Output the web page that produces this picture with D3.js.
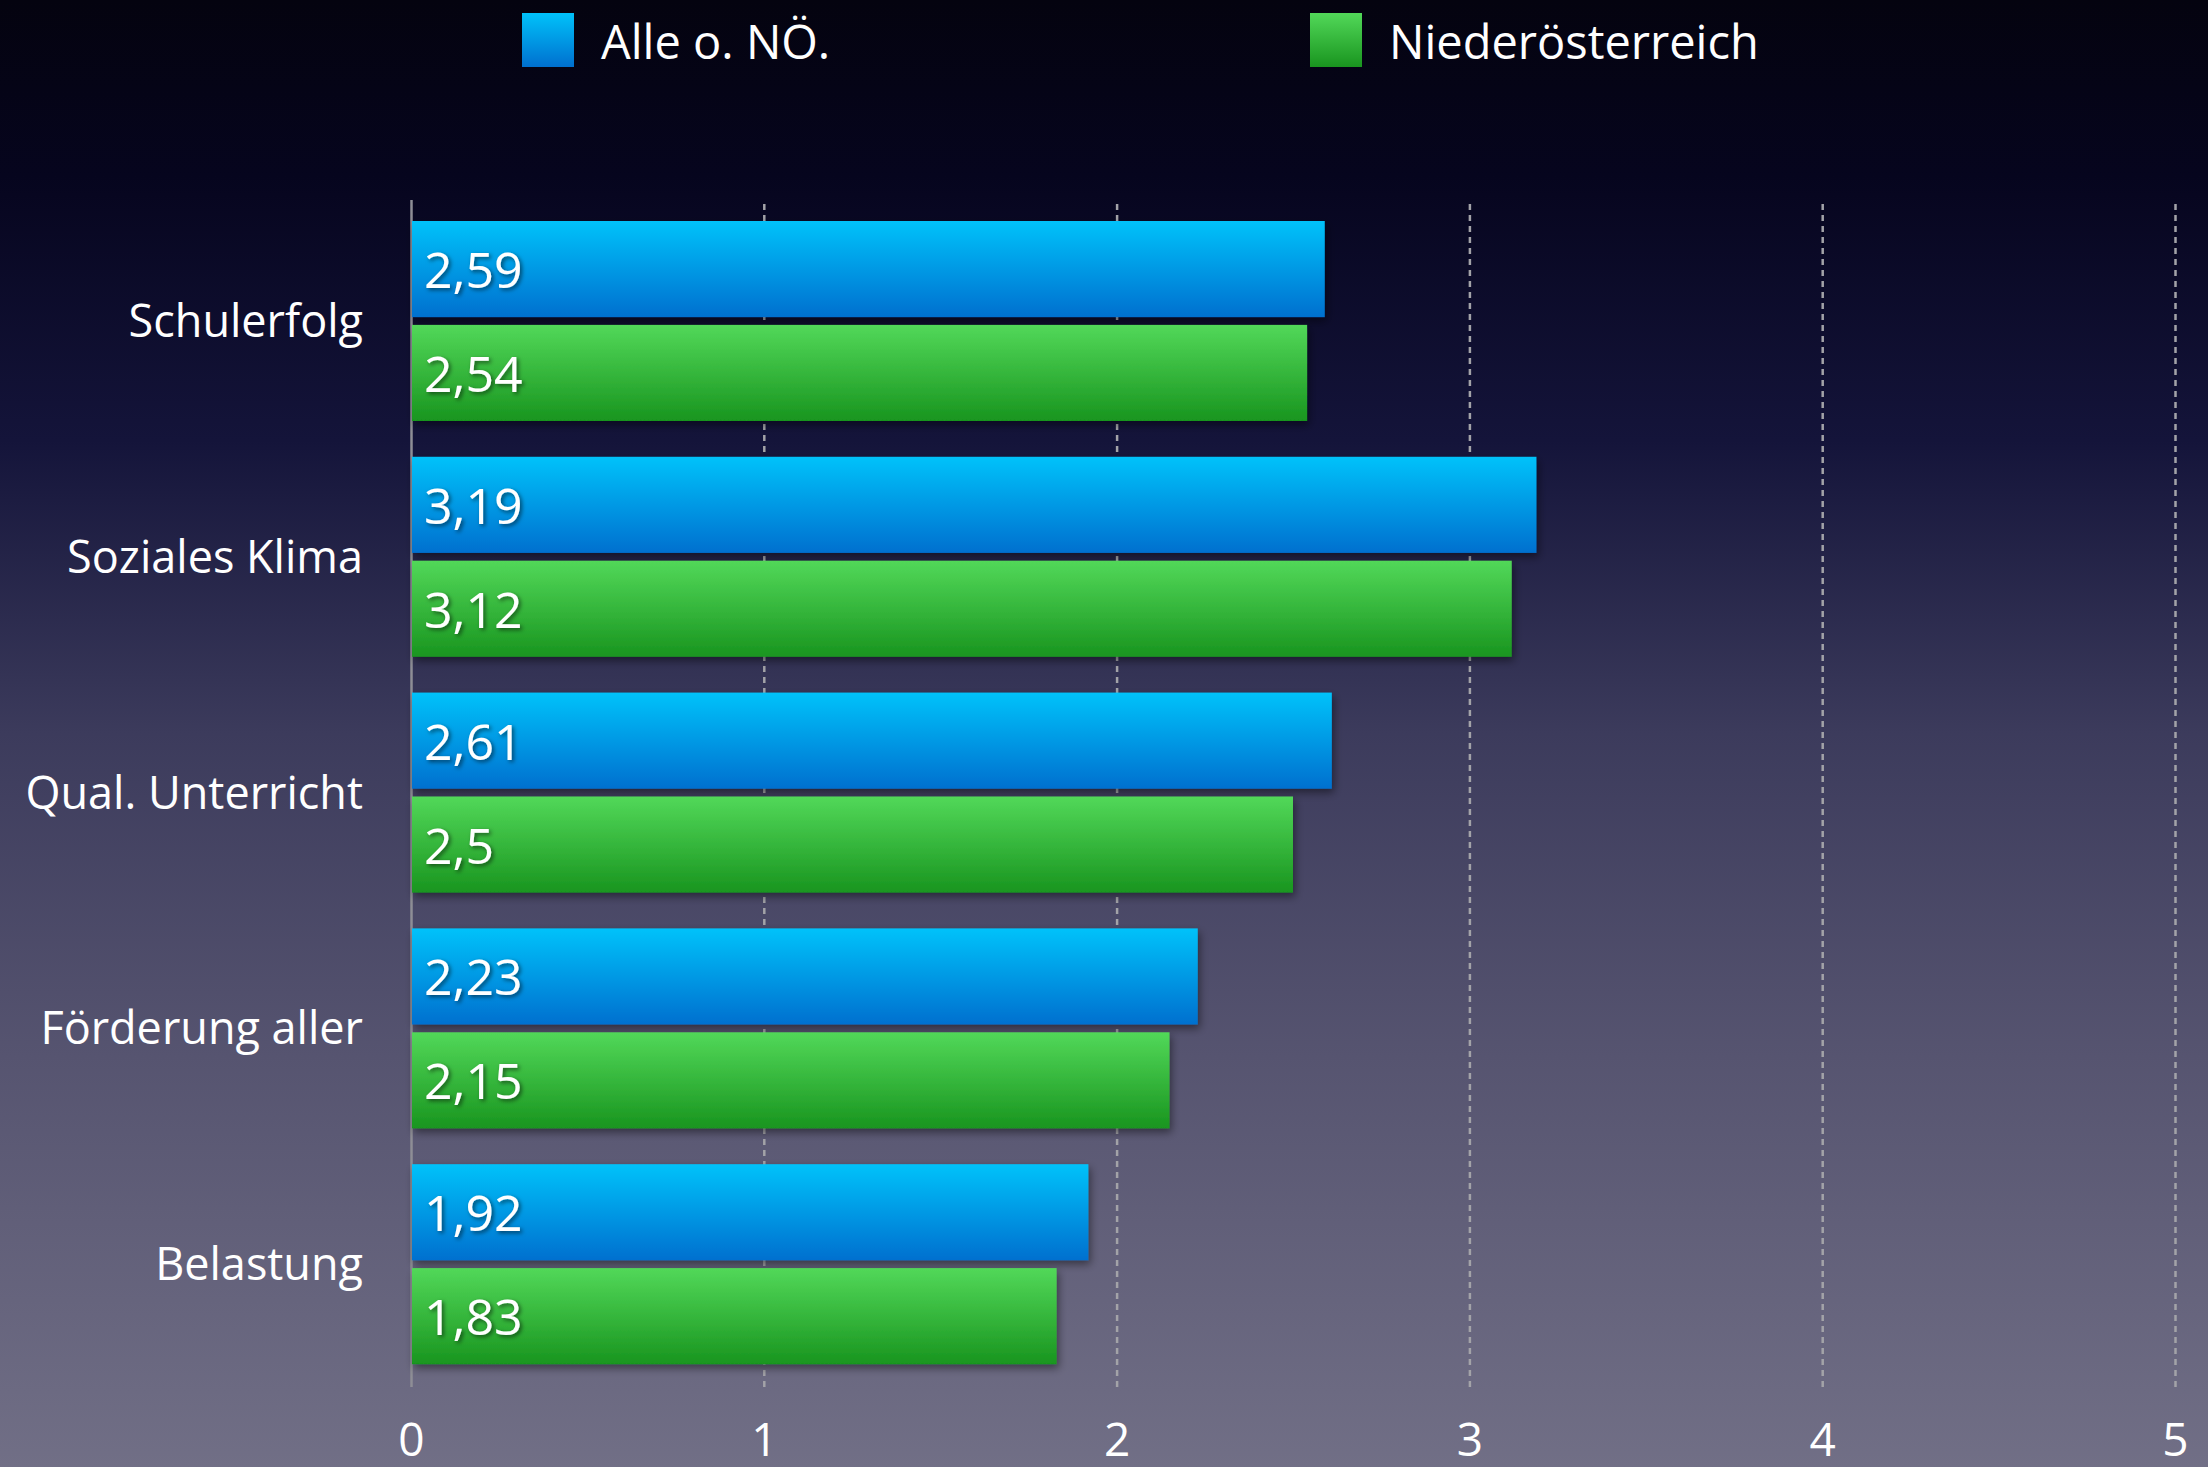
<!DOCTYPE html>
<html>
<head>
<meta charset="utf-8">
<script src="https://cdn.jsdelivr.net/npm/d3@7"></script>
<style>
  body { margin: 0; background: #000; }
  svg { display: block; }
  text { font-family: "Open Sans", sans-serif; fill: #fff; }
</style>
</head>
<body>
<div id="chart"></div>
<script>

var categories = ["Schulerfolg", "Soziales Klima", "Qual. Unterricht", "Förderung aller", "Belastung"];
var seriesNames = ["Alle o. NÖ.", "Niederösterreich"];
var alleValues = [2.59, 3.19, 2.61, 2.23, 1.92];
var noeValues = [2.54, 3.12, 2.5, 2.15, 1.83];
var xTicks = [0, 1, 2, 3, 4, 5];

var width = 2208, height = 1467;

// rows of data, one per category
var data = categories.map(function(c, i) {
	return { cat: c, values: [alleValues[i], noeValues[i]] };
});

var svg = d3.select("#chart")
	.append("svg")
	.attr("width", width)
	.attr("height", height);

var defs = svg.append("defs");

// background gradient
var bg = defs.append("linearGradient").attr("id", "bg")
	.attr("x1", 0).attr("y1", 0).attr("x2", 0).attr("y2", 1);
[[0, "#04030f"], [0.12, "#06051e"], [0.3, "#14143a"], [0.5, "#3c3b5c"], [0.72, "#565470"], [1, "#716f86"]]
	.forEach(function(s) { bg.append("stop").attr("offset", s[0]).attr("stop-color", s[1]); });

// bar gradients
var barColors = [["#00c2fa", "#0070cf"], ["#52d859", "#19951f"]];
barColors.forEach(function(c, i) {
	var g = defs.append("linearGradient").attr("id", "bar" + i)
		.attr("x1", 0).attr("y1", 0).attr("x2", 0).attr("y2", 1);
	g.append("stop").attr("offset", 0).attr("stop-color", c[0]);
	g.append("stop").attr("offset", 1).attr("stop-color", c[1]);
});

var shadow = defs.append("filter").attr("id", "shadow")
	.attr("x", "-5%").attr("y", "-20%").attr("width", "115%").attr("height", "150%");
shadow.append("feDropShadow").attr("dx", 2).attr("dy", 4).attr("stdDeviation", 4)
	.attr("flood-color", "#000").attr("flood-opacity", 0.45);

var textShadow = defs.append("filter").attr("id", "tshadow")
	.attr("x", "-10%").attr("y", "-20%").attr("width", "130%").attr("height", "150%");
textShadow.append("feDropShadow").attr("dx", 2).attr("dy", 2).attr("stdDeviation", 2)
	.attr("flood-color", "#000").attr("flood-opacity", 0.55);

svg.append("rect").attr("width", width).attr("height", height).attr("fill", "url(#bg)");

// scales
var x = d3.scaleLinear().domain([0, 5]).range([411, 2175]);
var y = d3.scaleBand().domain(categories).range([199, 1378]);
var ySub = d3.scaleBand().domain(seriesNames).range([22, 222]).paddingInner(0.075);

var gridTop = 200, gridBottom = 1387;

// grid + tick labels through d3 axis
var axis = svg.append("g")
	.attr("transform", "translate(0," + gridBottom + ")")
	.call(d3.axisBottom(x)
		.tickValues(xTicks)
		.tickFormat(d3.format("d"))
		.tickSize(-(gridBottom - gridTop))
		.tickPadding(36));

axis.select(".domain").remove();
axis.selectAll(".tick line")
	.attr("stroke-width", 2.5)
	.attr("stroke-dasharray", function(d) { return d == 0 ? null : "6,5"; })
	.attr("stroke", function(d) { return d == 0 ? "#8e8e96" : "#a3a3a8"; });
axis.selectAll(".tick text")
	.attr("fill", "#fff")
	.attr("dy", "0.71em")
	.style("font-family", "'Open Sans', sans-serif")
	.style("font-size", "46px");

// bars
var group = svg.selectAll("g.cat")
	.data(data)
	.enter().append("g")
	.attr("class", "cat")
	.attr("transform", function(d) { return "translate(0," + y(d.cat) + ")"; });

group.selectAll("rect")
	.data(function(d) { return d.values; })
	.enter().append("rect")
	.attr("x", x(0) + 1)
	.attr("y", function(d, i) { return ySub(seriesNames[i]); })
	.attr("width", function(d) { return x(d) - x(0) - 1; })
	.attr("height", ySub.bandwidth())
	.attr("fill", function(d, i) { return "url(#bar" + i + ")"; })
	.attr("filter", "url(#shadow)");

group.selectAll("text.val")
	.data(function(d) { return d.values; })
	.enter().append("text")
	.attr("class", "val")
	.attr("x", x(0) + 13)
	.attr("y", function(d, i) { return ySub(seriesNames[i]) + ySub.bandwidth() / 2 + 19; })
	.attr("filter", "url(#tshadow)")
	.style("font-size", "50px")
	.text(function(d) { return String(d).replace(".", ","); });

// category labels
group.append("text")
	.attr("x", 363)
	.attr("y", 122 + 16)
	.attr("text-anchor", "end")
	.style("font-size", "45px")
	.text(function(d) { return d.cat; });

// legend
var legendX = [522, 1310];
var legend = svg.selectAll("g.legend")
	.data(seriesNames)
	.enter().append("g")
	.attr("class", "legend")
	.attr("transform", function(d, i) { return "translate(" + legendX[i] + ",13)"; });

legend.append("rect")
	.attr("width", 52)
	.attr("height", 54)
	.attr("fill", function(d, i) { return "url(#bar" + i + ")"; });

legend.append("text")
	.attr("x", 79)
	.attr("y", 46)
	.style("font-size", "47px")
	.text(function(d) { return d; });

</script>
</body>
</html>
